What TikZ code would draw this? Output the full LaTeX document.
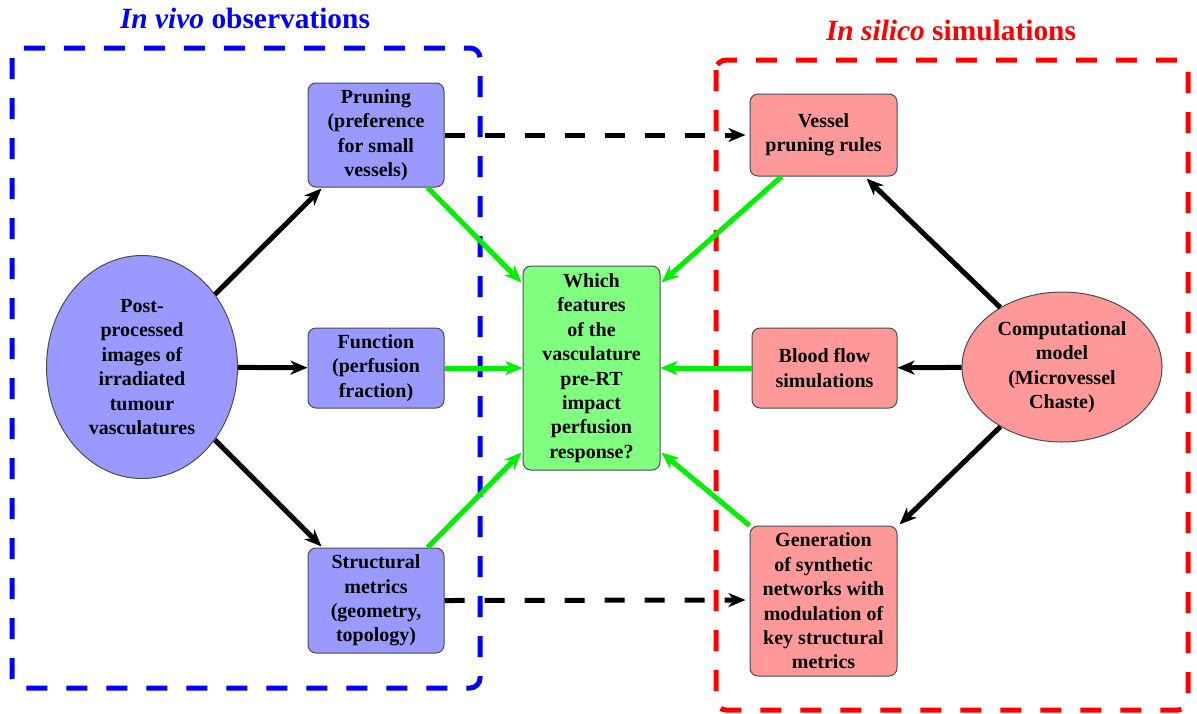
\documentclass[tikz,border=0pt]{standalone}
\usepackage{fontspec}
\setmainfont{Liberation Serif}[UprightFont={Liberation Serif}, BoldFont={Liberation Serif Bold}, ItalicFont={Liberation Serif Italic}, BoldItalicFont={Liberation Serif Bold Italic}]
\usetikzlibrary{arrows.meta,shapes.geometric,calc}
\definecolor{bfill}{RGB}{153,153,255}
\definecolor{rfill}{RGB}{255,153,153}
\definecolor{gfill}{RGB}{128,255,128}
\definecolor{gline}{RGB}{0,240,0}
\begin{document}
\begin{tikzpicture}[x=0.5pt,y=-0.5pt,
  txt/.style={align=center, font=\rmfamily\bfseries\fontsize{10}{12.2}\selectfont},
  box/.style={txt, draw=black!70, line width=0.5pt, rounded corners=4pt, inner sep=1pt},
  bbox/.style={box, fill=bfill},
  rbox/.style={box, fill=rfill},
  gbox/.style={box, fill=gfill},
  ell/.style={txt, ellipse, draw=black!70, line width=0.5pt, inner sep=0pt},
  tipS/.style={-{Stealth[length=8.5pt,width=7pt,inset=2.5pt]}},
  blk/.style={tipS, line width=2.5pt, black},
  grn/.style={tipS, line width=2.5pt, gline},
  dsh/.style={tipS, line width=2.5pt, black, dash pattern=on 10pt off 10pt},
  frame/.style={line width=2.5pt, dash pattern=on 10.5pt off 9.5pt, rounded corners=5pt},
  title/.style={font=\rmfamily\bfseries\fontsize{14.7}{17}\selectfont, anchor=base}
]
\useasboundingbox (0,0) rectangle (1197,713);

% frames
\draw[frame, blue] (12,48) rectangle (480,688);
\draw[frame, red] (716,60) rectangle (1188,710);
\node[title, text=blue] (tv) at (245,28) {\textit{In vivo} observations};
\node[title, text=red] (ts) at (951,40) {\textit{In silico} simulations};

% left nodes
\node[ell, fill=bfill, minimum width=95.5pt, minimum height=111.5pt] (post) at (142,367)
  {Post-\\processed\\images of\\irradiated\\tumour\\vasculatures};
\node[bbox, minimum width=68pt, minimum height=52pt] (prun) at (376,135)
  {Pruning\\(preference\\for small\\vessels)};
\node[bbox, minimum width=68pt, minimum height=40pt] (func) at (376,368)
  {Function\\(perfusion\\fraction)};
\node[bbox, minimum width=68pt, minimum height=52.5pt] (struct) at (376,600.5)
  {Structural\\metrics\\(geometry,\\topology)};

% centre
\node[gbox, minimum width=68.5pt, minimum height=102pt] (q) at (591.5,368)
  {Which\\features\\of the\\vasculature\\pre-RT\\impact\\perfusion\\response?};

% right nodes
\node[rbox, minimum width=73.5pt, minimum height=41pt] (vess) at (823.5,135)
  {Vessel\\pruning rules};
\node[rbox, minimum width=72.5pt, minimum height=40pt] (blood) at (824.5,368)
  {Blood flow\\simulations};
\node[rbox, minimum width=73.5pt, minimum height=75pt] (gen) at (823.5,601)
  {Generation\\of synthetic\\networks with\\modulation of\\key structural\\metrics};
\node[ell, fill=rfill, minimum width=100pt, minimum height=75pt] (comp) at (1062,367)
  {Computational\\model\\(Microvessel\\Chaste)};

% black arrows
\draw[blk] (post) -- ($(prun.south west)+(14,1)$);
\draw[blk] (post) -- (func);
\draw[blk] (post) -- ($(struct.north west)+(14,-1)$);
\draw[blk] (comp) -- ($(vess.south east)+(-31,2)$);
\draw[blk] (comp) -- (blood);
\draw[blk] (comp) -- ($(gen.north east)+(2,-1)$);

% green arrows
\draw[grn] ($(prun.south east)+(-17,0)$) -- ($(q.north west)+(-1,17)$);
\draw[grn] (func) -- (q);
\draw[grn] ($(struct.north east)+(-17,0)$) -- ($(q.south west)+(-1,-18)$);
\draw[grn] ($(vess.south west)+(32,0)$) -- ($(q.north east)+(1,17)$);
\draw[grn] (blood) -- (q);
\draw[grn] (gen.north west) -- ($(q.south east)+(1,-18)$);

% dashed arrows
\draw[dsh] (prun.east) -- ($(vess.west)+(-4,0)$);
\draw[dsh] (struct.east) -- ($(gen.west)+(-4,-1)$);
\end{tikzpicture}
\end{document}
